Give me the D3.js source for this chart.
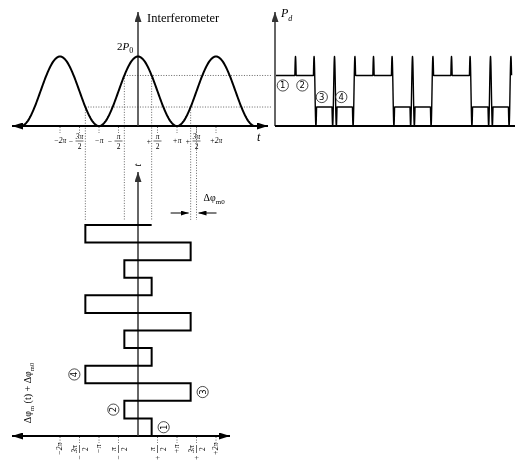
<!DOCTYPE html>
<html>
<head>
<meta charset="utf-8">
<script src="https://cdn.jsdelivr.net/npm/d3@7.9.0/dist/d3.min.js"></script>
<style>
  body { margin: 0; background: #fff; }
  svg { display: block; font-family: "Liberation Serif", "DejaVu Serif", serif; will-change: transform; }
  svg text { fill: #000; }
</style>
</head>
<body>
<svg id="chart" width="515" height="461"></svg>
<script>
// phase levels of the square-wave modulation (units of pi), states 1..4
const levels = [0.35, -0.35, 1.35, -1.35];
// state visited in each time slot (three periods)
const sequence = [0, 1, 2, 3, 0, 1, 2, 3, 0, 1, 2, 3];
// phase axis ticks (units of pi) and their labels
const tickValues = [-2, -1.5, -1, -0.5, 0.5, 1, 1.5, 2];
const tickLabels = [
  { sign: '', num: '\u22122\u03c0' },
  { sign: '\u2212', num: '3\u03c0', den: '2' },
  { sign: '', num: '\u2212\u03c0' },
  { sign: '\u2212', num: '\u03c0', den: '2' },
  { sign: '+', num: '\u03c0', den: '2' },
  { sign: '', num: '+\u03c0' },
  { sign: '+', num: '3\u03c0', den: '2' },
  { sign: '', num: '+2\u03c0' }
];
const stateNames = ['1', '2', '3', '4'];
const biasPhase = 1.5;      // 3pi/2 reference for the offset
const switchRate = 10.6;    // phase change (pi) per time slot during a switch

// interferometer transfer, in units of P0
const P = (phi) => 1 + Math.cos(Math.PI * phi);

const svg = d3.select('#chart');

// scales
const x = d3.scaleLinear().domain([-2, 2]).range([60, 216]);     // phase
const yP = d3.scaleLinear().domain([0, 2]).range([126, 56.5]);   // power
const tx = d3.scaleLinear().domain([0, 12]).range([276, 510]);   // time, right plot
const ty = d3.scaleLinear().domain([0, 12]).range([436, 225]);   // time, bottom plot

// arrow markers
const defs = svg.append('defs');
function marker(id, w, h, color) {
  defs.append('marker')
    .attr('id', id)
    .attr('viewBox', `0 0 ${w} ${h}`)
    .attr('refX', w).attr('refY', h / 2)
    .attr('markerUnits', 'userSpaceOnUse')
    .attr('markerWidth', w).attr('markerHeight', h)
    .attr('orient', 'auto-start-reverse')
    .append('path')
    .attr('d', `M0,0L${w},${h / 2}L0,${h}z`)
    .attr('fill', color);
}
marker('arrow', 11, 7, '#000');
marker('arrowG', 10, 7, '#333');
marker('arrowS', 8, 5, '#000');

function axisLine(x1, y1, x2, y2, opts) {
  const l = svg.append('line')
    .attr('x1', x1).attr('y1', y1).attr('x2', x2).attr('y2', y2)
    .attr('stroke', opts.color || '#000')
    .attr('stroke-width', opts.width || 2);
  if (opts.end) l.attr('marker-end', `url(#${opts.end})`);
  if (opts.start) l.attr('marker-start', `url(#${opts.start})`);
  return l;
}
function dotted(x1, y1, x2, y2) {
  svg.append('line')
    .attr('x1', x1).attr('y1', y1).attr('x2', x2).attr('y2', y2)
    .attr('stroke', '#555').attr('stroke-width', 0.9)
    .attr('stroke-dasharray', '1,1.6');
}

// tick label: optional sign in front of a stacked fraction
function drawLabel(g, lab) {
  const fs = 7.5;
  if (lab.den) {
    g.append('text').attr('x', 0).attr('y', -2.5).attr('text-anchor', 'middle')
      .attr('font-size', fs).attr('font-style', 'italic').text(lab.num);
    g.append('line').attr('x1', -4).attr('x2', 4).attr('y1', 0).attr('y2', 0)
      .attr('stroke', '#000').attr('stroke-width', 0.6);
    g.append('text').attr('x', 0).attr('y', 8).attr('text-anchor', 'middle')
      .attr('font-size', fs).text(lab.den);
    g.append('text').attr('x', -6.5).attr('y', 2.5).attr('text-anchor', 'end')
      .attr('font-size', fs).text(lab.sign);
  } else {
    g.append('text').attr('x', 0).attr('y', 1.5).attr('text-anchor', 'middle')
      .attr('font-size', fs).attr('font-style', 'italic').text(lab.num);
  }
}

function circled(g, name) {
  g.append('circle').attr('r', 5.6).attr('fill', '#fff')
    .attr('stroke', '#000').attr('stroke-width', 0.7);
  g.append('text').attr('y', 3).attr('text-anchor', 'middle')
    .attr('font-size', 8.5).attr('font-family', 'DejaVu Sans, sans-serif').text(name);
}

// ---------- guide lines (drawn first, under the curves) ----------
const hiY = yP(P(levels[0]));
const loY = yP(P(levels[2]));
dotted(x(levels[1]), hiY, 272, hiY);
dotted(x(levels[3]), loY, 272, loY);
levels.forEach((lv) => dotted(x(lv), yP(P(lv)), x(lv), 220));
dotted(x(biasPhase), yP(0), x(biasPhase), 220);

// tick marks on both phase axes
tickValues.forEach((v) => {
  dotted(x(v), 127, x(v), 133);
  dotted(x(v), ty(0) + 1, x(v), ty(0) + 7);
});

// ---------- top left: interferometer response ----------
axisLine(12, yP(0), 268, yP(0), { start: 'arrow', end: 'arrow' });
axisLine(x(0), yP(0), x(0), 12, { color: '#333', width: 1.5, end: 'arrowG' });

const curve = d3.range(-3, 3.0001, 0.02).map((p) => [x(p), yP(P(p))]);
svg.append('path')
  .attr('d', d3.line()(curve))
  .attr('fill', 'none').attr('stroke', '#000').attr('stroke-width', 2);

svg.append('text').attr('x', 147).attr('y', 22).attr('font-size', 12.5).text('Interferometer');
const p0 = svg.append('text').attr('x', 117).attr('y', 50).attr('font-size', 11);
p0.append('tspan').text('2');
p0.append('tspan').attr('font-style', 'italic').text('P');
p0.append('tspan').attr('font-size', 8).attr('dy', 3).text('0');
svg.append('text').attr('x', 257).attr('y', 141).attr('font-size', 12)
  .attr('font-style', 'italic').text('t');

tickValues.forEach((v, i) => {
  const g = svg.append('g').attr('transform', `translate(${x(v)},141)`);
  drawLabel(g, tickLabels[i]);
});

// ---------- top right: detected power ----------
const rightX = tx(0) - 1;
axisLine(rightX, yP(0), rightX, 12, { color: '#333', width: 1.5, end: 'arrowG' });
axisLine(rightX, yP(0), 515, yP(0), {});

const pd = svg.append('text').attr('x', 281).attr('y', 17).attr('font-size', 12)
  .attr('font-style', 'italic');
pd.append('tspan').text('P');
pd.append('tspan').attr('font-size', 8).attr('dy', 4).text('d');

// phase seen by the interferometer, with finite-speed switching
const nextLevel = (k) => levels[sequence[k % sequence.length]];
function phaseAt(t) {
  const k = Math.round(t);
  if (k >= 1 && k <= sequence.length) {
    const a = levels[sequence[k - 1]];
    const b = nextLevel(k);
    const d = Math.abs(b - a) / switchRate;
    if (Math.abs(t - k) < d / 2) return a + (b - a) * (t - (k - d / 2)) / d;
    if (t > k && k === sequence.length) return b;
  }
  const slot = Math.min(Math.floor(t), sequence.length - 1);
  return levels[sequence[slot]];
}
const lastD = Math.abs(nextLevel(sequence.length) - levels[sequence[sequence.length - 1]]) / switchRate;
const pdPts = d3.range(0, sequence.length + lastD / 2, 0.004)
  .map((t) => [tx(t), yP(P(phaseAt(t)))]);
svg.append('path')
  .attr('d', d3.line()(pdPts))
  .attr('fill', 'none').attr('stroke', '#000').attr('stroke-width', 1.4)
  .attr('stroke-linejoin', 'round');

stateNames.forEach((name, i) => {
  const high = P(levels[i]) > 1;
  const cy = high ? yP(P(levels[i])) + 10 : yP(P(levels[i])) - 10;
  const g = svg.append('g').attr('transform', `translate(${tx(i + 0.35)},${cy})`);
  circled(g, name);
});

// ---------- bottom: modulation phase versus time (rotated) ----------
axisLine(12, ty(0), 230, ty(0), { start: 'arrow', end: 'arrow' });
axisLine(x(0), ty(0), x(0), 172, { color: '#333', width: 1.5, end: 'arrowG' });

const wave = [];
sequence.forEach((s, k) => {
  wave.push([x(levels[s]), ty(k)]);
  wave.push([x(levels[s]), ty(k + 1)]);
});
wave.push([x(levels[sequence[0]]), ty(sequence.length)]);
svg.append('path')
  .attr('d', d3.line()(wave))
  .attr('fill', 'none').attr('stroke', '#000').attr('stroke-width', 2)
  .attr('stroke-linejoin', 'miter');

stateNames.forEach((name, i) => {
  const lv = levels[i];
  const cx = x(lv) + (lv > 0 ? 12 : -11);
  const g = svg.append('g')
    .attr('transform', `translate(${cx},${ty(i + 0.5)}) rotate(-90)`);
  circled(g, name);
});

tickValues.forEach((v, i) => {
  const g = svg.append('g').attr('transform', `translate(${x(v)},449) rotate(-90)`);
  drawLabel(g, tickLabels[i]);
});

svg.append('text')
  .attr('transform', `translate(${x(0) + 3},165) rotate(-90)`)
  .attr('text-anchor', 'middle').attr('font-size', 10).attr('font-style', 'italic').text('t');

const yl = svg.append('text')
  .attr('transform', 'translate(31,393) rotate(-90)')
  .attr('text-anchor', 'middle').attr('font-size', 10);
yl.append('tspan').text('\u0394\u03c6');
yl.append('tspan').attr('font-size', 6.5).attr('dy', 2.5).text('m');
yl.append('tspan').attr('dy', -2.5).text(' (t) + \u0394\u03c6');
yl.append('tspan').attr('font-size', 6.5).attr('dy', 2.5).text('m0');

// offset marker between state 3 and 3pi/2
axisLine(x(levels[2]) - 20, 213, x(levels[2]) - 2, 213, { width: 1, end: 'arrowS' });
axisLine(x(biasPhase) + 20, 213, x(biasPhase) + 2, 213, { width: 1, end: 'arrowS' });
const dm = svg.append('text').attr('x', x(biasPhase) + 7).attr('y', 201).attr('font-size', 10);
dm.append('tspan').text('\u0394\u03c6');
dm.append('tspan').attr('font-size', 7).attr('dy', 3).text('m0');
</script>
</body>
</html>
